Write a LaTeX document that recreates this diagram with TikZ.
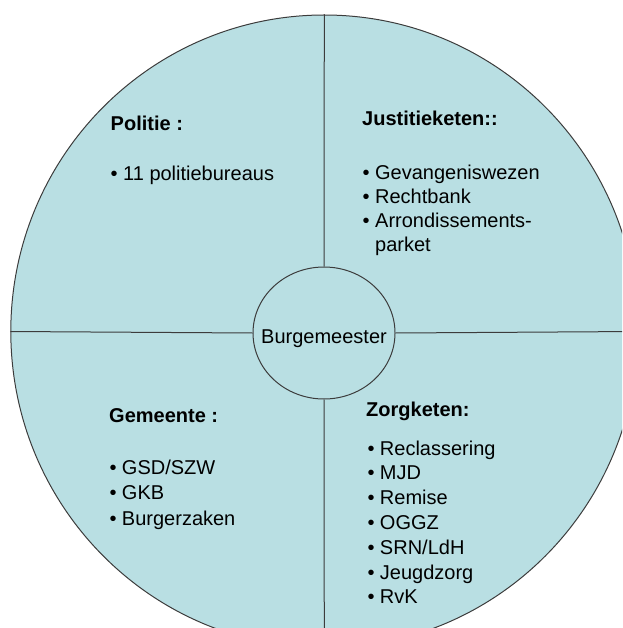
\documentclass[tikz,border=0pt]{standalone}
\usepackage{fontspec}
\setmainfont{Liberation Sans}
\usetikzlibrary{shapes.geometric}
\definecolor{pale}{HTML}{B9DFE3}
\definecolor{rim}{HTML}{3C3C3C}
\tikzset{
  kop/.style={anchor=base west, inner sep=0pt, font=\fontsize{20}{24}\selectfont\bfseries},
  punt/.style={anchor=base west, inner sep=0pt, font=\fontsize{20}{24}\selectfont},
  rand/.style={draw=rim, line width=1pt, ellipse, inner sep=0pt},
}
\newcommand{\bul}{\makebox[12.5pt][l]{•}}

\begin{document}
\begin{tikzpicture}[x=1pt, y=-1pt]
  \useasboundingbox (0,0) rectangle (622,628);
  \clip (0,0) rectangle (622,628);
  % outer disc and the mayor in the middle
  \node[rand, fill=pale, minimum width=627pt, minimum height=633pt] (ring) at (324.3,331.5) {};
  \node[rand, minimum width=142pt, minimum height=132pt] (burg) at (324,333) {};
  \node[punt, anchor=base] (naam) at ([yshift=-10.3pt]burg.center) {Burgemeester};
  \draw[rim, line width=1pt] (ring.north) -- (burg.north);
  \draw[rim, line width=1pt] (burg.south) -- (ring.south);
  \draw[rim, line width=1pt] (ring.west) -- (burg.west);
  \draw[rim, line width=1pt] (burg.east) -- (ring.east);
  % Politie
  \node[kop] (politie) at (110.5,131) {Politie :};
  \node[punt] (politie-1) at (110.5,181) {\bul 11 politiebureaus};
  % Justitieketen
  \node[kop] (justitie) at (362,126) {Justitieketen::};
  \foreach \tekst [count=\i] in {Gevangeniswezen, Rechtbank, Arrondissements-}
    \node[punt] (justitie-\i) at (362.5,{179.5+24*(\i-1)}) {\bul \tekst};
  \node[punt] (justitie-4) at (375,251.5) {parket};
  % Gemeente
  \node[kop] (gemeente) at (109,422.3) {Gemeente :};
  \foreach \tekst [count=\i] in {GSD/SZW, GKB, Burgerzaken}
    \node[punt] (gemeente-\i) at (109.3,{474+25.5*(\i-1)}) {\bul \tekst};
  % Zorgketen
  \node[kop] (zorg) at (366,416.7) {Zorgketen:};
  \foreach \tekst [count=\i] in {Reclassering, MJD, Remise, OGGZ, SRN/LdH, Jeugdzorg, RvK}
    \node[punt] (zorg-\i) at (367.3,{455+24.8*(\i-1)}) {\bul \tekst};
\end{tikzpicture}
\end{document}
